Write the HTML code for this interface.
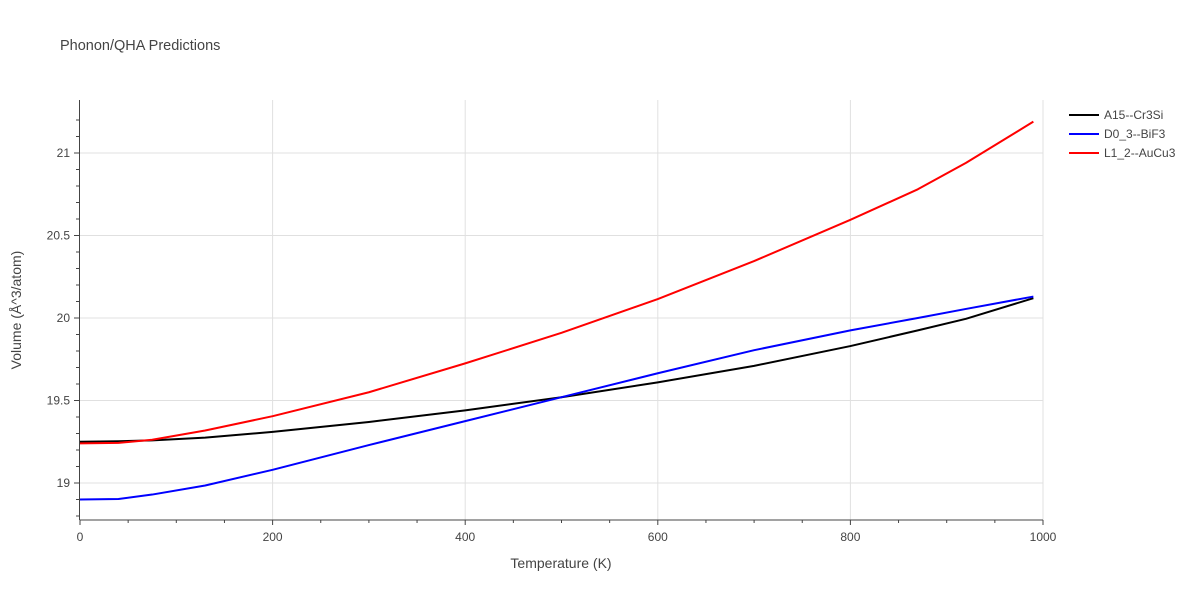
<!DOCTYPE html>
<html><head><meta charset="utf-8"><style>
body{margin:0;background:#fff;font-family:"Liberation Sans",sans-serif;}
svg text{font-family:"Liberation Sans",sans-serif;fill:#444;}
</style></head><body>
<svg width="1200" height="600" xmlns="http://www.w3.org/2000/svg">
<text x="60" y="50" font-size="14.5">Phonon/QHA Predictions</text>
<g id="grid"></g>
<g id="axes"></g>
<g id="series"></g>
<text x="561" y="568" font-size="14" text-anchor="middle">Temperature (K)</text>
<text transform="translate(21,310) rotate(-90)" font-size="14" text-anchor="middle">Volume (Å^3/atom)</text>
<g id="legend"></g>
</svg>
<script>
const temps=[0,40,75,130,200,300,400,500,600,700,800,870,920,990];
const seriesNames=["A15--Cr3Si","D0_3--BiF3","L1_2--AuCu3"];
const seriesColors=["#000000","#0000ff","#ff0000"];
const a15=[19.25,19.253,19.258,19.275,19.31,19.37,19.44,19.52,19.61,19.71,19.83,19.925,19.995,20.12];
const d03=[18.9,18.903,18.93,18.985,19.08,19.23,19.375,19.52,19.665,19.805,19.925,20.0,20.055,20.13];
const l12=[19.24,19.243,19.262,19.318,19.405,19.55,19.725,19.91,20.115,20.345,20.595,20.78,20.94,21.19];
const xTicks=[0,200,400,600,800,1000];
const yTicks=[19,19.5,20,20.5,21];
const NS="http://www.w3.org/2000/svg";
const X0=80,X1=1043,Y19=483,PPU=165;
const xs=v=>X0+(X1-X0)*v/1000;
const ys=v=>Y19-(v-19)*PPU;
function mk(t,a,p){const e=document.createElementNS(NS,t);for(const k in a)e.setAttribute(k,a[k]);p.appendChild(e);return e;}
const grid=document.getElementById('grid'),axes=document.getElementById('axes'),ser=document.getElementById('series'),leg=document.getElementById('legend');
xTicks.forEach(t=>{
 if(t>0){const l=mk('line',{x1:xs(t),x2:xs(t),y1:100,y2:520,stroke:'#e0e0e0'},grid);
 
 }
 const tx=mk('text',{x:xs(t),y:541,'font-size':12,'text-anchor':'middle'},axes);tx.textContent=t;
 
 
});
for(let t=0;t<=1000;t+=50){mk('line',{x1:xs(t),x2:xs(t),y1:520,y2:t%200==0?525:523,stroke:'#444'},axes);}
yTicks.forEach(t=>{
 const l=mk('line',{x1:80,x2:1043,y1:ys(t),y2:ys(t),stroke:'#e0e0e0'},grid);
 
 
 const tx=mk('text',{x:70,y:ys(t)+4,'font-size':12,'text-anchor':'end'},axes);tx.textContent=t;
 
 
});
for(let v=18.8;v<=21.3;v+=0.1){const y=ys(v);if(y>=100&&y<=520)mk('line',{x1:79,x2:Math.abs((v*2)-Math.round(v*2))<0.01?74:76,y1:y,y2:y,stroke:'#444'},axes);}
mk('line',{x1:79.5,x2:79.5,y1:100,y2:520,stroke:'#444'},axes);
mk('line',{x1:79.5,x2:1043,y1:520,y2:520,stroke:'#444'},axes);
[a15,d03,l12].forEach((d,i)=>{
 const p=mk('polyline',{points:temps.map((t,j)=>xs(t)+','+ys(d[j])).join(' '),fill:'none',stroke:seriesColors[i],'stroke-width':2,'stroke-linejoin':'round'},ser);
 
 
 const y=115+i*19;
 const g=mk('g',{},leg);
 
 
 mk('line',{x1:1069,x2:1099,y1:y,y2:y,stroke:seriesColors[i],'stroke-width':2},g);
 const tx=mk('text',{x:1104,y:y+4,'font-size':12},g);tx.textContent=seriesNames[i];
});
</script>
</body></html>
